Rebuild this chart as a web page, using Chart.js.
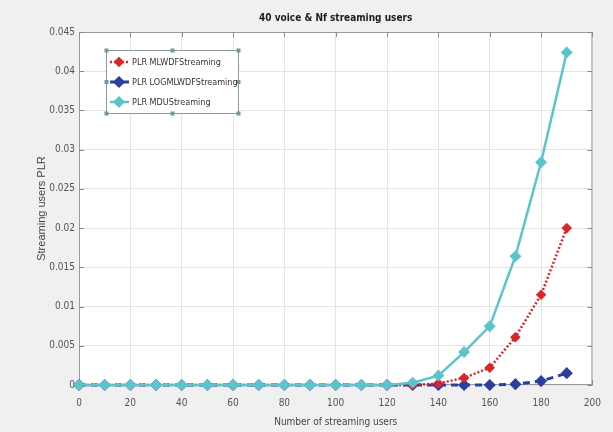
<!DOCTYPE html>
<html>
<head>
<meta charset="utf-8">
<script src="https://cdn.jsdelivr.net/npm/chart.js@4/dist/chart.umd.min.js"></script>
<style>
  html, body { margin: 0; padding: 0; background: #f0f0f0; }
  #wrap { width: 613px; height: 432px; }
</style>
</head>
<body>
<div id="wrap"><canvas id="c" width="613" height="432"></canvas></div>
<script>
// Number of streaming users on the x axis
const streamingUsers = [0, 10, 20, 30, 40, 50, 60, 70, 80, 90, 100, 110, 120, 130, 140, 150, 160, 170, 180, 190];

// Packet loss ratio of streaming users per scheduler
const plrMLWDF    = [0, 0, 0, 0, 0, 0, 0, 0, 0, 0, 0, 0, 0, 0, 0.0002, 0.0009, 0.0022, 0.0061, 0.0115, 0.0200];
const plrLOGMLWDF = [0, 0, 0, 0, 0, 0, 0, 0, 0, 0, 0, 0, 0, 0, 0, 0, 0, 0.0001, 0.0005, 0.0015];
const plrMDU      = [0, 0, 0, 0, 0, 0, 0, 0, 0, 0, 0, 0, 0, 0.0003, 0.0012, 0.0042, 0.0075, 0.0164, 0.0284, 0.0424];

const seriesLabels = ['PLR MLWDFStreaming', 'PLR LOGMLWDFStreaming', 'PLR MDUStreaming'];
const xTicks = [0, 20, 40, 60, 80, 100, 120, 140, 160, 180, 200];
const yTicks = [0, 0.005, 0.01, 0.015, 0.02, 0.025, 0.03, 0.035, 0.04, 0.045];

const narrow = "'Liberation Sans Narrow', 'DejaVu Sans Condensed', 'Liberation Sans', sans-serif";
const toPoints = (ys) => streamingUsers.map((x, i) => ({ x, y: ys[i] }));

// Figure background and white axes area
const backgroundPlugin = {
  id: 'figureBackground',
  beforeDraw(chart) {
    const { ctx, chartArea: a } = chart;
    ctx.save();
    ctx.fillStyle = '#f0f0f0';
    ctx.fillRect(0, 0, chart.width, chart.height);
    ctx.fillStyle = '#ffffff';
    ctx.fillRect(a.left, a.top, a.right - a.left, a.bottom - a.top);
    ctx.restore();
  }
};

// Box around the axes with inward tick marks on all four sides
const boxPlugin = {
  id: 'axesBox',
  beforeDatasetsDraw(chart) {
    const { ctx, chartArea: a, scales } = chart;
    ctx.save();
    ctx.strokeStyle = '#9a9a9a';
    ctx.lineWidth = 1;
    ctx.strokeRect(a.left + 0.5, a.top + 0.5, a.right - a.left - 1, a.bottom - a.top - 1);
    ctx.strokeStyle = '#8a8a8a';
    ctx.beginPath();
    xTicks.forEach(v => {
      const px = Math.round(scales.x.getPixelForValue(v)) + 0.5;
      ctx.moveTo(px, a.bottom); ctx.lineTo(px, a.bottom - 5);
      ctx.moveTo(px, a.top); ctx.lineTo(px, a.top + 5);
    });
    yTicks.forEach(v => {
      const py = Math.round(scales.y.getPixelForValue(v)) + 0.5;
      ctx.moveTo(a.left, py); ctx.lineTo(a.left + 5, py);
      ctx.moveTo(a.right, py); ctx.lineTo(a.right - 5, py);
    });
    ctx.stroke();
    ctx.restore();
  }
};

// Legend box drawn inside the axes, top-left
const legendPlugin = {
  id: 'insideLegend',
  afterDraw(chart) {
    const { ctx, chartArea: a } = chart;
    const bx = a.left + 27, by = a.top + 18, bw = 132, bh = 63;
    ctx.save();
    ctx.fillStyle = '#ffffff';
    ctx.fillRect(bx, by, bw, bh);
    ctx.strokeStyle = '#8c9c9c';
    ctx.lineWidth = 1;
    ctx.strokeRect(bx + 0.5, by + 0.5, bw, bh);
    // selection handles
    ctx.fillStyle = '#6f9a9a';
    [[0, 0], [0.5, 0], [1, 0], [0, 0.5], [1, 0.5], [0, 1], [0.5, 1], [1, 1]].forEach(([fx, fy]) => {
      ctx.fillRect(bx + fx * bw - 1.5, by + fy * bh - 1.5, 4, 4);
    });
    chart.data.datasets.forEach((ds, i) => {
      const cy = by + 12 + i * 20;
      ctx.strokeStyle = ds.borderColor;
      ctx.lineWidth = ds.borderWidth;
      ctx.setLineDash(ds.borderDash || []);
      ctx.beginPath();
      ctx.moveTo(bx + 4, cy);
      ctx.lineTo(bx + 23, cy);
      ctx.stroke();
      ctx.setLineDash([]);
      ctx.fillStyle = ds.pointBackgroundColor;
      ctx.strokeStyle = ds.borderColor;
      Chart.helpers.drawPoint(ctx, { pointStyle: ds.pointStyle, radius: ds.pointRadius, rotation: 0, borderWidth: 1 }, bx + 13, cy);
      ctx.fillStyle = '#333333';
      ctx.font = "9px " + narrow;
      ctx.textBaseline = 'middle';
      ctx.textAlign = 'left';
      ctx.fillText(ds.label, bx + 26, cy + 0.5);
    });
    ctx.restore();
  }
};

new Chart(document.getElementById('c'), {
  type: 'line',
  data: {
    datasets: [
      {
        label: seriesLabels[0],
        data: toPoints(plrMLWDF),
        borderColor: '#d9252b',
        pointBackgroundColor: '#d9252b',
        borderWidth: 2.5,
        borderDash: [2, 2],
        pointStyle: 'rectRot',
        pointRadius: 3.5,
        clip: false,
        order: 1
      },
      {
        label: seriesLabels[1],
        data: toPoints(plrLOGMLWDF),
        borderColor: '#2b3f9e',
        pointBackgroundColor: '#2b3f9e',
        borderWidth: 3,
        borderDash: [7, 5],
        pointStyle: 'rectRot',
        pointRadius: 4,
        clip: false,
        order: 2
      },
      {
        label: seriesLabels[2],
        data: toPoints(plrMDU),
        borderColor: '#5cc4cc',
        pointBackgroundColor: '#5cc4cc',
        borderWidth: 2.5,
        pointStyle: 'rectRot',
        pointRadius: 4.2,
        clip: false,
        order: 0
      }
    ]
  },
  options: {
    responsive: false,
    animation: false,
    devicePixelRatio: 1,
    layout: { padding: { left: 0, right: 14, top: 0, bottom: 0 } },
    plugins: {
      legend: { display: false },
      tooltip: { enabled: false },
      title: {
        display: true,
        fullSize: false,
        text: '40 voice & Nf streaming users',
        color: '#1a1a1a',
        font: { family: narrow, size: 10, weight: 'bold' },
        padding: { top: 12, bottom: 8 }
      }
    },
    elements: { line: { tension: 0 }, point: { borderWidth: 1 } },
    scales: {
      x: {
        type: 'linear',
        min: 0,
        max: 200,
        afterFit(s) { s.height = 47; },
        afterBuildTicks(s) { s.ticks = xTicks.map(v => ({ value: v })); },
        grid: { color: '#e4e4e4', drawTicks: false },
        border: { display: false },
        ticks: { color: '#555555', padding: 12, font: { family: narrow, size: 10 } },
        title: {
          display: true,
          text: 'Number of streaming users',
          color: '#444444',
          font: { family: narrow, size: 10 },
          padding: { top: 0, bottom: 4 }
        }
      },
      y: {
        min: 0,
        max: 0.045,
        afterFit(s) { s.width = 79; },
        afterBuildTicks(s) { s.ticks = yTicks.map(v => ({ value: v })); },
        grid: { color: '#e4e4e4', drawTicks: false },
        border: { display: false },
        ticks: {
          color: '#555555',
          padding: 4,
          font: { family: narrow, size: 10 },
          callback: (v) => String(+Number(v).toFixed(3))
        },
        title: {
          display: true,
          text: 'Streaming users PLR',
          color: '#444444',
          font: { family: "'Liberation Sans', sans-serif", size: 11 },
          padding: { top: 35, bottom: 0 }
        }
      }
    }
  },
  plugins: [backgroundPlugin, boxPlugin, legendPlugin]
});
</script>
</body>
</html>
